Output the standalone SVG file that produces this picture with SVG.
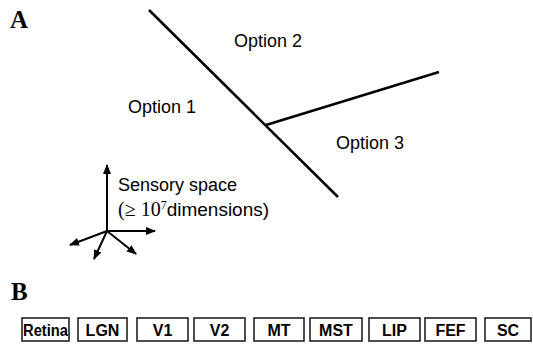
<svg xmlns="http://www.w3.org/2000/svg" width="533" height="347" viewBox="0 0 533 347">
<style>
.lab{font-family:"Liberation Serif",serif;font-weight:bold;font-size:25px;fill:#000}
.opt{font-family:"Liberation Sans",Arial,sans-serif;font-size:18px;fill:#000}
.box rect{fill:#fff;stroke:#222;stroke-width:1.6}
.box text{font-family:"Liberation Sans",Arial,sans-serif;font-weight:bold;font-size:16px;fill:#000;text-anchor:middle}
.ln{stroke:#000;stroke-width:2.5;fill:none}
.ax{stroke:#000;stroke-width:2;fill:none;marker-end:url(#ah)}
</style>
<defs>
<marker id="ah" viewBox="0 0 10 10" refX="9" refY="5" markerWidth="5" markerHeight="5" orient="auto" markerUnits="strokeWidth">
<path d="M0,1 L10,5 L0,9 z" fill="#000"/>
</marker>
</defs>
<text class="lab" x="10" y="28">A</text>
<text class="lab" x="11" y="300">B</text>
<g id="connectors">
<line class="ln" x1="149" y1="10" x2="338" y2="197"/>
<line class="ln" x1="266" y1="125" x2="439" y2="72"/>
<line class="ax" x1="107" y1="231" x2="107" y2="165"/>
<line class="ax" x1="107" y1="231" x2="155" y2="231"/>
<line class="ax" x1="107" y1="231" x2="70" y2="245"/>
<line class="ax" x1="107" y1="231" x2="94" y2="259"/>
<line class="ax" x1="107" y1="231" x2="136" y2="254"/>
</g>
<g id="option1"><text class="opt" x="128" y="113">Option 1</text></g>
<g id="option2"><text class="opt" x="234" y="47">Option 2</text></g>
<g id="option3"><text class="opt" x="336" y="149">Option 3</text></g>
<g id="sensory"><text class="opt" x="118" y="191">Sensory space</text>
<text class="opt" x="118" y="216"><tspan font-family="Liberation Serif" font-size="20">(≥ 10</tspan><tspan font-family="Liberation Serif" font-size="12" dy="-7">7</tspan><tspan dy="7" font-size="19">dimensions)</tspan></text></g>
<g id="retina" class="box"><rect x="22" y="318" width="47" height="23"/><text x="45.5" y="336" textLength="45" lengthAdjust="spacingAndGlyphs">Retina</text></g>
<g id="lgn" class="box"><rect x="78" y="318" width="49" height="23"/><text x="102.5" y="336">LGN</text></g>
<g id="v1" class="box"><rect x="137" y="318" width="51" height="23"/><text x="162.5" y="336">V1</text></g>
<g id="v2" class="box"><rect x="194" y="318" width="51" height="23"/><text x="219.5" y="336">V2</text></g>
<g id="mt" class="box"><rect x="254" y="318" width="50" height="23"/><text x="279" y="336">MT</text></g>
<g id="mst" class="box"><rect x="310" y="318" width="52" height="23"/><text x="336" y="336">MST</text></g>
<g id="lip" class="box"><rect x="369" y="318" width="51" height="23"/><text x="394.5" y="336">LIP</text></g>
<g id="fef" class="box"><rect x="425" y="318" width="51" height="23"/><text x="450.5" y="336">FEF</text></g>
<g id="sc" class="box"><rect x="485" y="318" width="46" height="23"/><text x="508" y="336">SC</text></g>
</svg>
